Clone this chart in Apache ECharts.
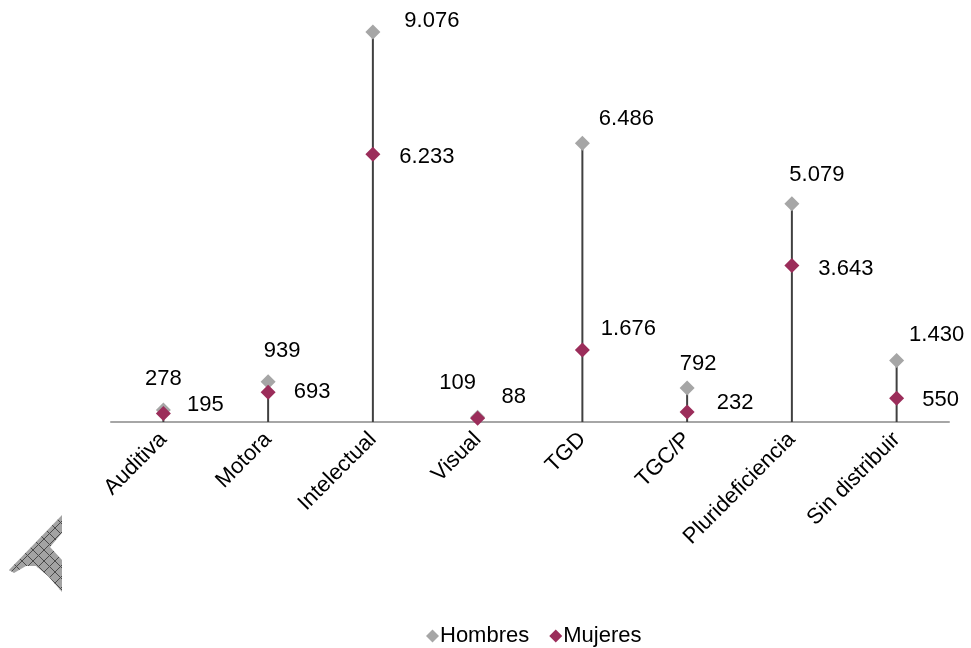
<!DOCTYPE html>
<html>
<head>
<meta charset="utf-8">
<script src="https://cdn.jsdelivr.net/npm/echarts@6/dist/echarts.min.js"></script>
<style>
html,body{margin:0;padding:0;background:#fff;}
#chart{width:971px;height:648px;}
</style>
</head>
<body>
<div id="chart"></div>
<script>
var categories = ['Auditiva','Motora','Intelectual','Visual','TGD','TGC/P','Plurideficiencia','Sin distribuir'];
var hombres = [278, 939, 9076, 109, 6486, 792, 5079, 1430];
var mujeres = [195, 693, 6233, 88, 1676, 232, 3643, 550];

// label offsets (style only)
var hombresLabelOffset = [[0,-31],[14,-31],[59,-11],[-20,-34],[44,-24],[11,-24],[25,-29],[40,-26]];
var mujeresLabelOffset = [[42,-9],[44,0],[54,3],[36,-21],[46,-21],[48,-9],[54,3],[44,2]];

function fmt(v){
  return String(v).replace(/\B(?=(\d{3})+(?!\d))/g, '.');
}
function withLabels(vals, offs){
  return vals.map(function(v,i){
    return {value: v, label: {offset: offs[i]}};
  });
}

// hatch pattern for the decorative shape
var pc = document.createElement('canvas');
pc.width = 11; pc.height = 11;
var pctx = pc.getContext('2d');
pctx.fillStyle = '#a3a3a3';
pctx.fillRect(0,0,11,11);
pctx.strokeStyle = '#4a4a4a';
pctx.lineWidth = 1;
pctx.beginPath();
pctx.moveTo(0,0); pctx.lineTo(11,11);
pctx.moveTo(11,0); pctx.lineTo(0,11);
pctx.stroke();

var FONT = 'Liberation Sans, Arial, sans-serif';
var chart = echarts.init(document.getElementById('chart'));
var labelStyle = {
  show: true,
  position: 'inside',
  fontSize: 22,
  fontFamily: FONT,
  color: '#000000',
  opacity: 1,
  textBorderWidth: 0,
  textBorderColor: 'transparent',
  formatter: function(p){ return fmt(p.value); }
};
chart.setOption({
  animation: false,
  backgroundColor: '#ffffff',
  grid: {left: 111, right: 22, top: 13.8, bottom: 226, containLabel: false},
  xAxis: {
    type: 'category',
    data: categories,
    axisLine: {show: true, lineStyle: {color: '#a6a6a6', width: 2}},
    axisTick: {show: false},
    axisLabel: {
      rotate: 45,
      interval: 0,
      margin: 14,
      fontSize: 22,
      fontFamily: FONT,
      color: '#000000'
    }
  },
  yAxis: {
    type: 'value',
    min: 0,
    max: 9500,
    show: false,
    splitLine: {show: false}
  },
  legend: {
    data: ['Hombres','Mujeres'],
    left: 421,
    top: 620,
    icon: 'diamond',
    itemWidth: 13,
    itemHeight: 13,
    itemGap: 20,
    textStyle: {fontSize: 22, fontFamily: FONT, color: '#000000', padding: [0,0,0,-4]}
  },
  graphic: [{
    type: 'polygon',
    shape: {points: [[62,515],[62,533],[50,547],[62,560],[62,592],[48,576],[36,566],[26,566],[14,573],[9,570]]},
    style: {fill: {image: pc, repeat: 'repeat'}, stroke: null}
  }],
  series: [
    {
      name: 'stem',
      type: 'bar',
      data: hombres,
      barWidth: 2,
      itemStyle: {color: '#404040'},
      silent: true,
      z: 1
    },
    {
      name: 'Hombres',
      type: 'scatter',
      data: withLabels(hombres, hombresLabelOffset),
      symbol: 'diamond',
      symbolSize: 15,
      itemStyle: {color: '#a6a6a6', opacity: 1},
      label: labelStyle,
      z: 3
    },
    {
      name: 'Mujeres',
      type: 'scatter',
      data: withLabels(mujeres, mujeresLabelOffset),
      symbol: 'diamond',
      symbolSize: 15,
      itemStyle: {color: '#9b2d5a', opacity: 1},
      label: labelStyle,
      z: 4
    }
  ]
});
</script>
</body>
</html>
